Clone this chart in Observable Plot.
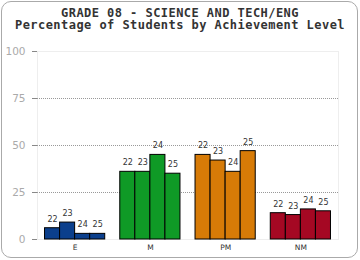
<!DOCTYPE html>
<html>
<head>
<meta charset="utf-8">
<script src="https://cdn.jsdelivr.net/npm/d3@7"></script>
<script src="https://cdn.jsdelivr.net/npm/@observablehq/plot@0.6"></script>
<style>
  html, body { margin: 0; padding: 0; background: #fff; }
  #wrap { position: relative; width: 360px; height: 260px; overflow: hidden; }
  #frame { position: absolute; left: 1px; top: 1px; width: 355px; height: 255px; border: 1px solid #aaa; border-radius: 10px; }
  #title { position: absolute; left: 0; top: 8.25px; width: 360px; text-align: center; font-family: "DejaVu Sans Mono", monospace; font-weight: bold; font-size: 12px; letter-spacing: 0.45px; color: #333; white-space: nowrap; line-height: 11.5px; }
  #chart { position: absolute; left: 0; top: 34px; }
</style>
</head>
<body>
<div id="wrap">
  <div id="frame"></div>
  <div id="title">GRADE 08 - SCIENCE AND TECH/ENG<br>Percentage of Students by Achievement Level</div>
  <div id="chart"></div>
</div>
<script>
const groups = ["E", "M", "PM", "NM"];
const years = ["22", "23", "24", "25"];
const valuesE = [6, 9, 3, 3];
const valuesM = [36, 36, 45, 35];
const valuesPM = [45, 42, 36, 47];
const valuesNM = [14, 13, 16, 15];
const colors = ["#0b3f8c", "#0f9a26", "#d77b07", "#a50823"];
const yTicks = [0, 25, 50, 75, 100];

const allValues = [valuesE, valuesM, valuesPM, valuesNM];
const barW = 0.2;
const data = [];
allValues.forEach((vals, gi) => {
  vals.forEach((v, yi) => {
    const x1 = gi - 0.4 + yi * barW;
    data.push({group: groups[gi], year: years[yi], value: v, base: 0, x1, x2: x1 + barW, xc: x1 + barW / 2});
  });
});

const plot = Plot.plot({
  width: 360,
  height: 224,
  marginTop: 17,
  marginBottom: 19,
  marginLeft: 37,
  marginRight: 22,
  style: {fontFamily: "DejaVu Sans, sans-serif", background: "transparent"},
  x: {type: "linear", domain: [-0.5, 3.5]},
  y: {domain: [0, 100]},
  color: {domain: groups, range: colors},
  marks: [
    Plot.frame({stroke: "#eee"}),
    Plot.ruleY([25, 50, 75], {stroke: "#999", strokeDasharray: "1,1"}),
    Plot.rect(data, {x1: "x1", x2: "x2", y1: "base", y2: "value", fill: "group", stroke: "#000", strokeWidth: 1}),
    Plot.text(data, {x: "xc", y: "value", text: "year", dy: -9, fontSize: 8, fill: "#333"}),
    Plot.axisY({ticks: yTicks, tickSize: 5, tickPadding: 7, fontSize: 10.5, stroke: "#888", fill: "#aaa", label: null}),
    Plot.axisX({ticks: [0, 1, 2, 3], tickFormat: i => groups[i], tickSize: 0, tickPadding: 5, fontSize: 7.5, fill: "#333", label: null})
  ]
});
document.getElementById("chart").appendChild(plot);
</script>
</body>
</html>
